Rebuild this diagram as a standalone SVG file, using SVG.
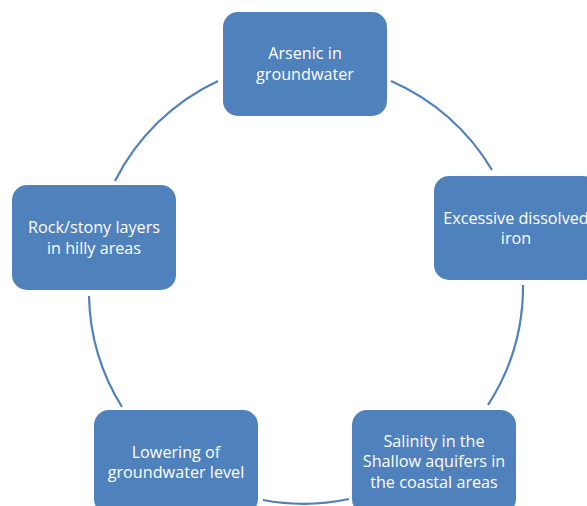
<svg xmlns="http://www.w3.org/2000/svg" width="587" height="506" viewBox="0 0 587 506">
<style>
.node{fill:#4F81BD;}
.lbl{fill:#FFFFFF;font-family:"Open Sans","Liberation Sans",sans-serif;font-size:16.2px;text-anchor:middle;}
.arc{fill:none;stroke:#4F81BD;stroke-width:2.2;}
</style>
<rect width="587" height="506" fill="#FFFFFF"/>
<g id="connectors">
<path class="arc" d="M391,81 A218.5,218.5 0 0 1 492,170"/>
<path class="arc" d="M523,285 A218.5,218.5 0 0 1 488,405"/>
<path class="arc" d="M349,499 A218.5,218.5 0 0 1 263,500"/>
<path class="arc" d="M122,407 A218.5,218.5 0 0 1 89,296"/>
<path class="arc" d="M115,181 A218.5,218.5 0 0 1 218,81"/>
</g>
<g id="node-arsenic">
<rect class="node" x="223" y="12" width="164" height="104" rx="15"/>
<text class="lbl" x="305" y="59">Arsenic in</text>
<text class="lbl" x="305" y="80">groundwater</text>
</g>
<g id="node-iron">
<rect class="node" x="434" y="176" width="164" height="104" rx="15"/>
<text class="lbl" x="516" y="224">Excessive dissolved</text>
<text class="lbl" x="516" y="244">iron</text>
</g>
<g id="node-salinity">
<rect class="node" x="352" y="410" width="164" height="104" rx="15"/>
<text class="lbl" x="434" y="447">Salinity in the</text>
<text class="lbl" x="434" y="467">Shallow aquifers in</text>
<text class="lbl" x="434" y="488">the coastal areas</text>
</g>
<g id="node-lowering">
<rect class="node" x="94" y="410" width="164" height="104" rx="15"/>
<text class="lbl" x="176" y="458">Lowering of</text>
<text class="lbl" x="176" y="478">groundwater level</text>
</g>
<g id="node-rock">
<rect class="node" x="12" y="185" width="164" height="105" rx="15"/>
<text class="lbl" x="94" y="233">Rock/stony layers</text>
<text class="lbl" x="94" y="254">in hilly areas</text>
</g>
</svg>
